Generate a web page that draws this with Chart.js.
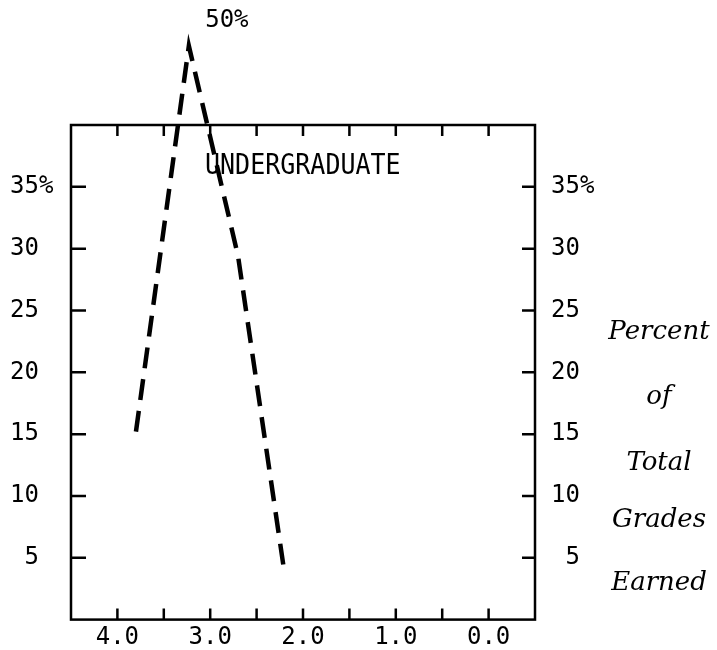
<!DOCTYPE html>
<html>
<head>
<meta charset="utf-8">
<script src="https://cdn.jsdelivr.net/npm/chart.js@4.4.0/dist/chart.umd.min.js"></script>
<style>
  body { margin: 0; background: #fff; }
  canvas { display: block; }
</style>
</head>
<body>
<canvas id="chart" width="717" height="650"></canvas>
<script>
// datos
const gradePoints = [3.8, 3.23, 2.7, 2.2];
const undergradPercent = [15.2, 46.4, 29.4, 3.8];
const peakLabel = "50%";
const seriesLabel = "UNDERGRADUATE";

const xTickValues = [4, 3, 2, 1, 0];
const xMarkValues = [4, 3.5, 3, 2.5, 2, 1.5, 1, 0.5, 0];
const yTickValues = [5, 10, 15, 20, 25, 30, 35];
const sideTitle = ["Percent", "of", "Total", "Grades", "Earned"];

const tickFont = { family: "DejaVu Sans Mono", size: 24 };

function leftLabel(v) {
  if (v === 35) return "35%";
  return v < 10 ? " " + v : String(v);
}

// marco y marcas hacia adentro
const frameTicks = {
  id: "frameTicks",
  afterDraw(chart) {
    const { ctx, chartArea: a, scales } = chart;
    ctx.save();
    ctx.strokeStyle = "#000";
    ctx.lineWidth = 2.5;
    ctx.strokeRect(a.left, a.top, a.right - a.left, a.bottom - a.top);
    ctx.beginPath();
    xMarkValues.forEach((v) => {
      const px = scales.x.getPixelForValue(v);
      ctx.moveTo(px, a.top);
      ctx.lineTo(px, a.top + 11);
      ctx.moveTo(px, a.bottom);
      ctx.lineTo(px, a.bottom - 11);
    });
    yTickValues.forEach((v) => {
      const py = scales.y.getPixelForValue(v);
      ctx.moveTo(a.left, py);
      ctx.lineTo(a.left + 15, py);
      ctx.moveTo(a.right, py);
      ctx.lineTo(a.right - 13, py);
    });
    ctx.stroke();

    // textos
    ctx.fillStyle = "#000";
    ctx.textBaseline = "middle";
    ctx.textAlign = "left";
    ctx.save();
    ctx.translate(a.left + 134, a.top + 42);
    ctx.scale(1, 1.12);
    ctx.font = "25px 'DejaVu Sans Mono'";
    ctx.fillText(seriesLabel, 0, 0);
    ctx.restore();

    const i = undergradPercent.indexOf(Math.max(...undergradPercent));
    const peakX = scales.x.getPixelForValue(gradePoints[i]);
    const peakY = scales.y.getPixelForValue(undergradPercent[i]);
    ctx.font = "24px 'DejaVu Sans Mono'";
    ctx.textAlign = "center";
    ctx.fillText(peakLabel, peakX + 38, peakY - 25);

    ctx.font = "italic 26px 'DejaVu Serif'";
    const ys = [332, 397, 463, 520, 583];
    sideTitle.forEach((t, k) => ctx.fillText(t, 659, ys[k]));
    ctx.restore();
  },
};

const chartCanvas = document.getElementById("chart").getContext("2d");

const chart = new Chart(chartCanvas, {
  type: "line",
  data: {
    datasets: [
      {
        label: seriesLabel,
        data: gradePoints.map((g, k) => ({ x: g, y: undergradPercent[k] })),
        borderColor: "#000",
        borderWidth: 4.5,
        borderDash: [21, 11],
        pointRadius: 0,
        tension: 0,
        clip: false,
      },
    ],
  },
  options: {
    responsive: false,
    animation: false,
    layout: { padding: { left: 10, top: 125, right: 122, bottom: 0 } },
    plugins: { legend: { display: false }, tooltip: { enabled: false } },
    scales: {
      x: {
        type: "linear",
        reverse: true,
        min: -0.5,
        max: 4.5,
        grid: { display: false, drawTicks: false },
        border: { display: false },
        afterBuildTicks: (s) => { s.ticks = xTickValues.map((v) => ({ value: v })); },
        afterFit: (s) => { s.height = 30; },
        ticks: {
          autoSkip: false,
          maxRotation: 0,
          padding: 4,
          color: "#000",
          font: tickFont,
          callback: (v) => Number(v).toFixed(1),
        },
      },
      y: {
        position: "left",
        min: 0,
        max: 40,
        grid: { display: false, drawTicks: false },
        border: { display: false },
        afterBuildTicks: (s) => { s.ticks = yTickValues.map((v) => ({ value: v })); },
        afterFit: (s) => { s.width = 61; },
        ticks: { crossAlign: "far", color: "#000", font: tickFont, callback: leftLabel },
      },
      y2: {
        position: "right",
        min: 0,
        max: 40,
        grid: { display: false, drawTicks: false },
        border: { display: false },
        afterBuildTicks: (s) => { s.ticks = yTickValues.map((v) => ({ value: v })); },
        afterFit: (s) => { s.width = 60; },
        ticks: { crossAlign: "near", padding: 16, color: "#000", font: tickFont, callback: leftLabel },
      },
    },
  },
  plugins: [frameTicks],
});
</script>
</body>
</html>
